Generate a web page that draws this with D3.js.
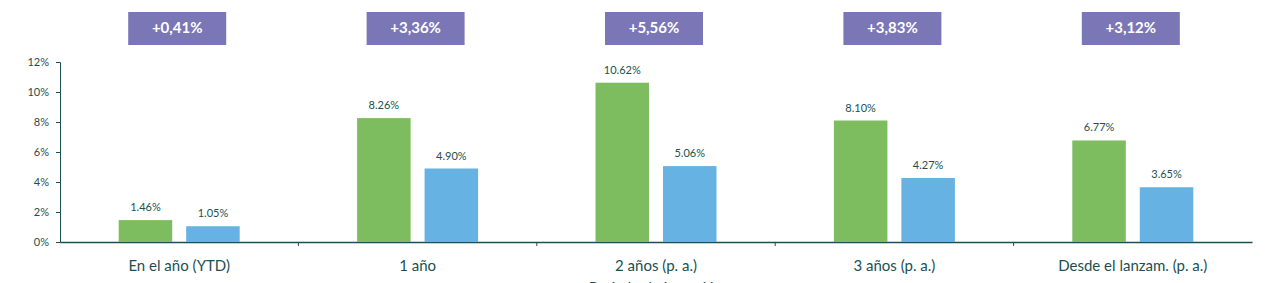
<!DOCTYPE html>
<html>
<head>
<meta charset="utf-8">
<script src="https://cdn.jsdelivr.net/npm/d3@7"></script>
<style>
  body { margin: 0; background: #fff; }
  svg { display: block; }
</style>
</head>
<body>
<script>
(function () {
    // Data
    const categories = ["En el año (YTD)", "1 año", "2 años (p. a.)", "3 años (p. a.)", "Desde el lanzam. (p. a.)"];
    const fundValues = [1.46, 8.26, 10.62, 8.10, 6.77];
    const benchValues = [1.05, 4.90, 5.06, 4.27, 3.65];
    const diffLabels = ["+0,41%", "+3,36%", "+5,56%", "+3,83%", "+3,12%"];
    const yTicks = [0, 2, 4, 6, 8, 10, 12];
    const axisTitle = "Período de inversión";

    const W = 1280, H = 283;
    const margin = { top: 62, right: 28, bottom: 41, left: 60 };
    const width = W - margin.left - margin.right,
        height = H - margin.top - margin.bottom;

    const teal = "#1c4f4f";
    const font = "Lato, 'Open Sans', sans-serif";

    const svg = d3.select("body").append("svg")
        .attr("width", W)
        .attr("height", H);

    const g = svg.append("g")
        .attr("transform", `translate(${margin.left}, ${margin.top})`);

    const x = d3.scaleBand()
        .domain(categories)
        .range([0, width])
        .paddingInner(0)
        .paddingOuter(0);

    const xSub = d3.scaleBand()
        .domain(["fund", "bench"])
        .range([0, 121])
        .paddingInner(0.207);

    const y = d3.scaleLinear()
        .domain([0, 12])
        .range([height, 0]);

    // y axis
    const yAxis = d3.axisLeft(y)
        .tickValues(yTicks)
        .tickSize(4)
        .tickPadding(7)
        .tickFormat(d => d + "%");
    const yg = g.append("g").call(yAxis);
    yg.select(".domain").attr("stroke", teal);
    yg.selectAll(".tick line").attr("stroke", teal);
    yg.selectAll("text")
        .attr("fill", teal)
        .style("font-family", font)
        .style("font-size", "11px");

    // x axis: ticks between categories
    const xAxis = d3.axisBottom(x).tickSize(0).tickFormat("");
    const xg = g.append("g")
        .attr("transform", `translate(0, ${height})`)
        .call(xAxis);
    xg.select(".domain").attr("stroke", teal).attr("stroke-width", 1.3);
    xg.selectAll(".tick").remove();
    categories.slice(1).forEach(c => {
        xg.append("line")
            .attr("x1", x(c)).attr("x2", x(c))
            .attr("y1", 0).attr("y2", 4)
            .attr("stroke", teal);
    });

    // category labels
    g.selectAll(".cat-label")
        .data(categories)
        .join("text")
        .attr("class", "cat-label")
        .attr("x", d => x(d) + x.bandwidth() / 2)
        .attr("y", height + 29)
        .attr("text-anchor", "middle")
        .attr("fill", teal)
        .style("font-family", font)
        .style("font-size", "15px")
        .text(d => d);

    // bars
    const groupOffset = (x.bandwidth() - xSub.range()[1]) / 2;
    const rows = categories.map((c, i) => ({ cat: c, fund: fundValues[i], bench: benchValues[i] }));

    const groups = g.selectAll(".grp")
        .data(rows)
        .join("g")
        .attr("class", "grp")
        .attr("transform", d => `translate(${x(d.cat) + groupOffset}, 0)`);

    const colors = { fund: "#7dbd5f", bench: "#65b2e3" };

    groups.selectAll("rect")
        .data(d => ["fund", "bench"].map(k => ({ key: k, value: d[k] })))
        .join("rect")
        .attr("x", d => xSub(d.key))
        .attr("y", d => y(d.value))
        .attr("width", xSub.bandwidth())
        .attr("height", d => height - y(d.value))
        .attr("fill", d => colors[d.key]);

    groups.selectAll(".val")
        .data(d => ["fund", "bench"].map(k => ({ key: k, value: d[k] })))
        .join("text")
        .attr("class", "val")
        .attr("x", d => xSub(d.key) + xSub.bandwidth() / 2)
        .attr("y", d => y(d.value) - 9)
        .attr("text-anchor", "middle")
        .attr("fill", teal)
        .style("font-family", font)
        .style("font-size", "11px")
        .text(d => d.value.toFixed(2) + "%");

    // difference boxes
    const boxes = svg.selectAll(".diff")
        .data(categories)
        .join("g")
        .attr("class", "diff")
        .attr("transform", d => `translate(${margin.left + x(d) + x.bandwidth() / 2 - 2}, 28)`);

    boxes.append("rect")
        .attr("x", -49)
        .attr("y", -16)
        .attr("width", 98)
        .attr("height", 33)
        .attr("fill", "#7b77b6");

    boxes.append("text")
        .attr("text-anchor", "middle")
        .attr("dy", "0.35em")
        .attr("fill", "#fff")
        .style("font-family", font)
        .style("font-weight", "bold")
        .style("font-size", "15px")
        .text((d, i) => diffLabels[i]);

    // axis title (cut off at the bottom edge, as in the reference)
    g.append("text")
        .attr("x", width / 2)
        .attr("y", height + 51)
        .attr("text-anchor", "middle")
        .attr("fill", teal)
        .style("font-family", font)
        .style("font-size", "15px")
        .text(axisTitle);
})();
</script>
</body>
</html>
